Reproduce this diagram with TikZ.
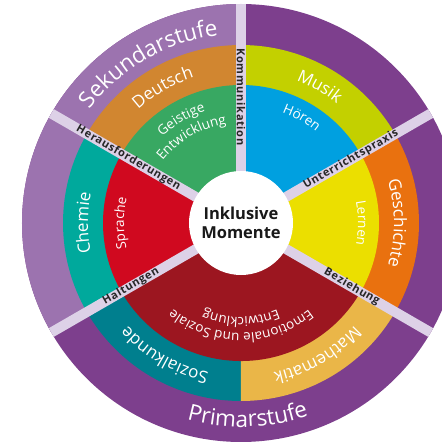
\documentclass[tikz,border=0pt]{standalone}
\usepackage{fontspec}
\setmainfont{Open Sans}
\usetikzlibrary{decorations.text}

\definecolor{stufeSek}{HTML}{9C73AF}
\definecolor{stufePrim}{HTML}{7D3F8D}
\definecolor{trenner}{HTML}{DDD1E7}
\definecolor{deutsch}{HTML}{D18630}
\definecolor{musik}{HTML}{C3D000}
\definecolor{geschichte}{HTML}{E9710F}
\definecolor{mathe}{HTML}{EAB648}
\definecolor{sozialkunde}{HTML}{007F8E}
\definecolor{chemie}{HTML}{00A99C}
\definecolor{geistig}{HTML}{38A862}
\definecolor{hoeren}{HTML}{00A0E0}
\definecolor{lernen}{HTML}{EBDF00}
\definecolor{emosoz}{HTML}{9C1620}
\definecolor{sprache}{HTML}{D0091F}

\newcommand{\stufefont}{\fontsize{22.5}{24}\selectfont\color{white}}
\newcommand{\fachfont}{\fontsize{17}{19}\selectfont\color{white}}
\newcommand{\kernfont}{\fontsize{13.5}{15}\selectfont\color{white}}

\tikzset{
  ringtext/.style={decorate, decoration={text along path, text align=center, text={#1}}},
  trennlinie/.style={draw=trenner, line width=10pt},
  trennlabel/.style={font=\fontsize{11}{11}\selectfont\bfseries\addfontfeatures{LetterSpace=6}, text=black!85, inner sep=0pt},
  mitte/.style={circle, fill=white, minimum size=104pt, inner sep=0pt, align=center, font=\fontsize{16.5}{19.5}\selectfont\bfseries, text=black!90},
}

\begin{document}
\begin{tikzpicture}
\useasboundingbox (-241pt,-219pt) rectangle (201pt,223pt);
\clip (-241pt,-219pt) rectangle (201pt,223pt);

% Stufen
\fill[stufePrim] (0,0) circle[radius=219pt];
\fill[stufeSek] (0,0) -- (90:219pt) arc[start angle=90, end angle=210, radius=219pt] -- cycle;

% Faecher
\fill[musik] (0,0) -- (30:178pt) arc[start angle=30, end angle=90, radius=178pt] -- cycle;
\fill[deutsch] (0,0) -- (90:178pt) arc[start angle=90, end angle=150, radius=178pt] -- cycle;
\fill[chemie] (0,0) -- (150:178pt) arc[start angle=150, end angle=210, radius=178pt] -- cycle;
\fill[sozialkunde] (0,0) -- (210:178pt) arc[start angle=210, end angle=270, radius=178pt] -- cycle;
\fill[mathe] (0,0) -- (270:178pt) arc[start angle=270, end angle=330, radius=178pt] -- cycle;
\fill[geschichte] (0,0) -- (-30:178pt) arc[start angle=-30, end angle=30, radius=178pt] -- cycle;

% Foerderschwerpunkte
\fill[hoeren] (0,0) -- (30:138pt) arc[start angle=30, end angle=90, radius=138pt] -- cycle;
\fill[geistig] (0,0) -- (90:138pt) arc[start angle=90, end angle=150, radius=138pt] -- cycle;
\fill[sprache] (0,0) -- (150:138pt) arc[start angle=150, end angle=210, radius=138pt] -- cycle;
\fill[emosoz] (0,0) -- (210:138pt) arc[start angle=210, end angle=330, radius=138pt] -- cycle;
\fill[lernen] (0,0) -- (-30:138pt) arc[start angle=-30, end angle=30, radius=138pt] -- cycle;

% Trenner
\begin{scope}
  \clip (0,0) circle[radius=219pt];
  \foreach \w in {90,30,-30,210,150}
    \draw[trennlinie] (0,0) -- (\w:230pt);
\end{scope}

\node[mitte] (mitte) at (0,0) {Inklusive\\Momente};

\node[trennlabel, rotate=-90] (kommunikation) at (90:126pt) {Kommunikation};
\node[trennlabel, rotate=30] (praxis) at (30:127pt) {Unterrichtspraxis};
\node[trennlabel, rotate=-30] (beziehung) at (-30:128pt) {Beziehung};
\node[trennlabel, rotate=30] (haltungen) at (210:127pt) {Haltungen};
\node[trennlabel, rotate=-30] (heraus) at (150:130pt) {Herausforderungen};

% Texte auf den Ringen
\path[ringtext={|\stufefont|Sekundarstufe}] (170:189pt) arc[start angle=170, end angle=70, radius=189pt];
\path[ringtext={|\stufefont|Primarstufe}] (222:204pt) arc[start angle=222, end angle=322, radius=204pt];

\path[ringtext={|\fachfont|Musik}] (110:153pt) arc[start angle=110, end angle=10, radius=153pt];
\path[ringtext={|\fachfont|Deutsch}] (170:153pt) arc[start angle=170, end angle=70, radius=153pt];
\path[ringtext={|\fachfont|Chemie}] (230:153pt) arc[start angle=230, end angle=130, radius=153pt];
\path[ringtext={|\fachfont|Sozialkunde}] (290:153pt) arc[start angle=290, end angle=190, radius=153pt];
\path[ringtext={|\fachfont|Mathematik}] (350:153pt) arc[start angle=350, end angle=250, radius=153pt];
\path[ringtext={|\fachfont|Geschichte}] (50:153pt) arc[start angle=50, end angle=-50, radius=153pt];

\path[ringtext={|\kernfont|Hören}] (110:118pt) arc[start angle=110, end angle=10, radius=118pt];
\path[ringtext={|\kernfont|Geistige}] (170:117pt) arc[start angle=170, end angle=70, radius=117pt];
\path[ringtext={|\kernfont|Entwicklung}] (170:100pt) arc[start angle=170, end angle=70, radius=100pt];
\path[ringtext={|\kernfont|Sprache}] (230:117pt) arc[start angle=230, end angle=130, radius=117pt];
\path[ringtext={|\kernfont|Emotionale und Soziale}] (320:110pt) arc[start angle=320, end angle=220, radius=110pt];
\path[ringtext={|\kernfont|Entwicklung}] (320:94pt) arc[start angle=320, end angle=220, radius=94pt];
\path[ringtext={|\kernfont|Lernen}] (50:117pt) arc[start angle=50, end angle=-50, radius=117pt];
\end{tikzpicture}
\end{document}
